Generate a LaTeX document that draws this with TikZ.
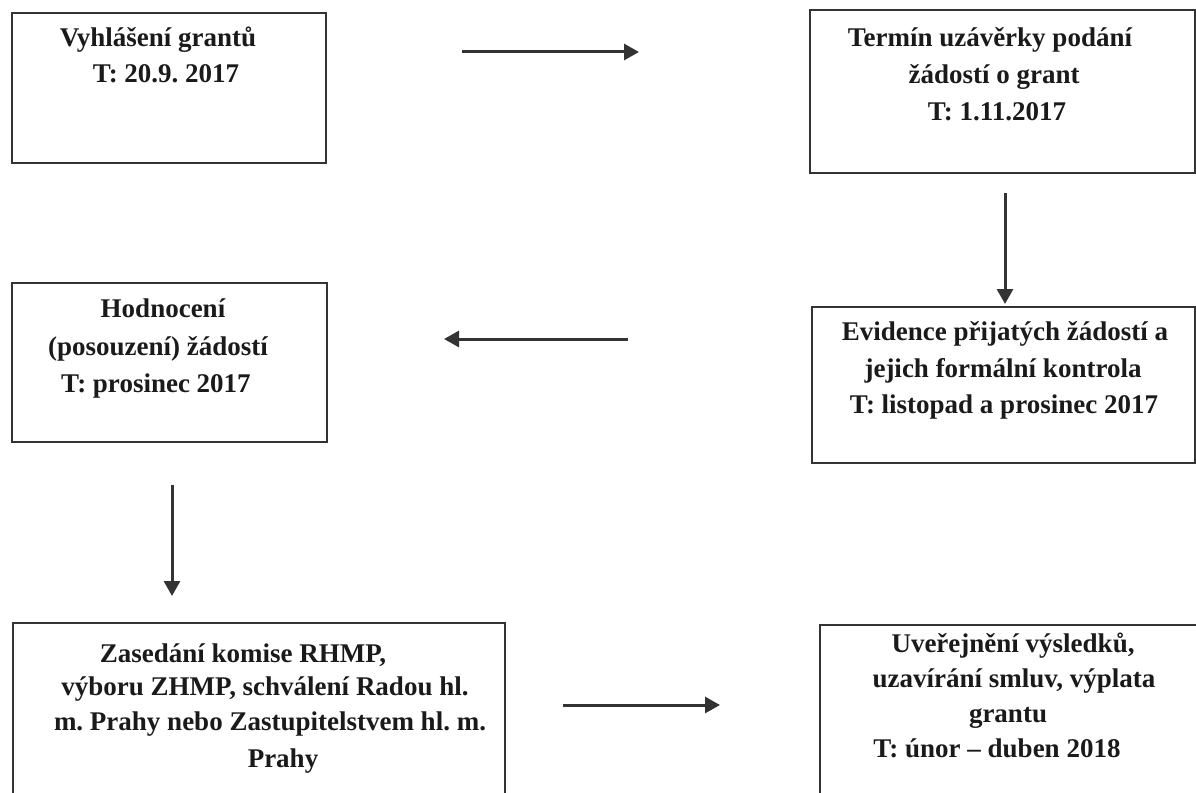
\documentclass[tikz,border=0pt]{standalone}
\usepackage{fontspec}
\setmainfont{Liberation Serif}
\usetikzlibrary{arrows.meta}
\frenchspacing
\definecolor{ink}{HTML}{1A1A1A}
\definecolor{edge}{HTML}{333333}
\tikzset{
  boxnode/.style={draw=edge, line width=2pt, anchor=north west, inner sep=0pt, outer sep=0pt},
  txt/.style={anchor=base, inner sep=0pt, text=ink, font=\fontsize{27pt}{34pt}\selectfont\bfseries},
  arr/.style={draw=edge, line width=3pt, -{Triangle[length=15pt,width=16pt]}}
}
\begin{document}
\begin{tikzpicture}[x=1pt,y=-1pt]
\useasboundingbox (0,0) rectangle (1196,792);
% boxes
\node[boxnode, minimum width=314pt, minimum height=150pt] (b1) at (12,13) {};
\node[boxnode, minimum width=385pt, minimum height=163pt] (b2) at (810,10) {};
\node[boxnode, minimum width=315pt, minimum height=159pt] (b3) at (12,283) {};
\node[boxnode, minimum width=383pt, minimum height=156pt] (b4) at (812,307) {};
\node[boxnode, minimum width=492pt, minimum height=200pt] (b5) at (13,623) {};
\node[boxnode, minimum width=400pt, minimum height=200pt] (b6) at (820,625) {};
% texts
\node[txt] (t1a) at (158,47) {Vyhlášení grantů};
\node[txt] (t1b) at (166,82) {T: 20.9. 2017};
\node[txt] (t2a) at (990,47) {Termín uzávěrky podání};
\node[txt] (t2b) at (994,83) {žádostí o grant};
\node[txt] (t2c) at (997,120) {T: 1.11.2017};
\node[txt] (t3a) at (163,317) {Hodnocení};
\node[txt] (t3b) at (158,355) {(posouzení) žádostí};
\node[txt] (t3c) at (156,392) {T: prosinec 2017};
\node[txt] (t4a) at (1005,340) {Evidence přijatých žádostí a};
\node[txt] (t4b) at (1003,377) {jejich formální kontrola};
\node[txt] (t4c) at (1004,413) {T: listopad a prosinec 2017};
\node[txt] (t5a) at (243,662) {Zasedání komise RHMP,};
\node[txt] (t5b) at (265,695) {výboru ZHMP, schválení Radou hl.};
\node[txt] (t5c) at (270,730) {m. Prahy nebo Zastupitelstvem hl. m.};
\node[txt] (t5d) at (283,767) {Prahy};
\node[txt] (t6a) at (1013,652) {Uveřejnění výsledků,};
\node[txt] (t6b) at (1014,687) {uzavírání smluv, výplata};
\node[txt] (t6c) at (1008,722) {grantu};
\node[txt] (t6d) at (997,757) {T: únor – duben 2018};
% arrow end points
\coordinate (a1s) at (462,52);  \coordinate (a1e) at (639,52);
\coordinate (a2s) at (1005,193); \coordinate (a2e) at (1005,304);
\coordinate (a3s) at (628,339); \coordinate (a3e) at (444,339);
\coordinate (a4s) at (172,485); \coordinate (a4e) at (172,596);
\coordinate (a5s) at (563,705); \coordinate (a5e) at (720,705);
\draw[arr] (a1s) -- (a1e);
\draw[arr] (a2s) -- (a2e);
\draw[arr] (a3s) -- (a3e);
\draw[arr] (a4s) -- (a4e);
\draw[arr] (a5s) -- (a5e);
\end{tikzpicture}
\end{document}
